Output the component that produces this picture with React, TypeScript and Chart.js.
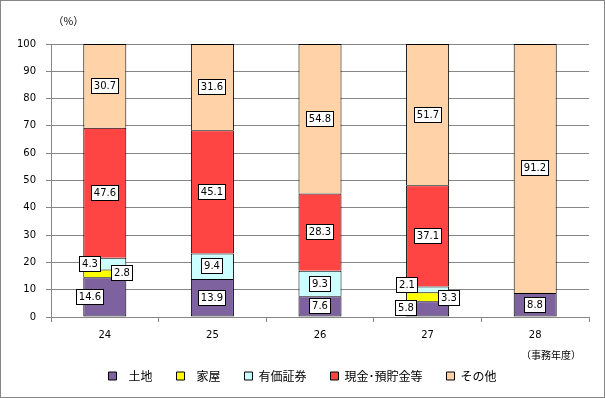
import React, { useEffect, useRef } from "react";
import { Chart, registerables } from "chart.js";

Chart.register(...registerables);

// ---- data ----
const categories = ["24", "25", "26", "27", "28"];
const seriesNames = ["土地", "家屋", "有価証券", "現金･預貯金等", "その他"];
const land = [14.6, 13.9, 7.6, 5.8, 8.8];
const house = [2.8, 0, 0, 3.3, 0];
const securities = [4.3, 9.4, 9.3, 2.1, 0];
const cash = [47.6, 45.1, 28.3, 37.1, 0];
const other = [30.7, 31.6, 54.8, 51.7, 91.2];
const yMin = 0;
const yMax = 100;
const yStep = 10;
const unitLabel = "（%）";
const xAxisTitle = "（事務年度）";

// ---- styles ----
const colors = ["#7E62A0", "#FFFF00", "#CCFFFF", "#FF4444", "#FFD2A8"];
const legendPrefix = ["\u2002", "\u2002", "", "", ""];
// manual label offsets (dataset-index) as in the original, in px
const labelOffsets: Record<string, [number, number]> = {
  "0-0": [-15, 0],
  "1-0": [17, 0],
  "2-0": [-15, 0],
  "0-3": [-22, -1],
  "1-3": [21, 1],
  "2-3": [-21, -4],
};

const GRID = "#868686";
const NUM_FONT = "DejaVu Sans";
const JP_FONT = "'Noto Sans CJK JP'";

const frameAndText = {
  id: "frameAndText",
  beforeDraw(chart: any) {
    const { ctx, width, height } = chart;
    ctx.save();
    ctx.fillStyle = "#ffffff";
    ctx.fillRect(0, 0, width, height);
    ctx.restore();
  },
  afterDraw(chart: any) {
    const { ctx, width, height, chartArea } = chart;
    ctx.save();
    ctx.strokeStyle = GRID;
    ctx.lineWidth = 1;
    ctx.strokeRect(0.5, 0.5, width - 1, height - 1);
    ctx.fillStyle = "#000";
    ctx.font = `10.5px ${JP_FONT}`;
    ctx.textAlign = "left";
    ctx.textBaseline = "middle";
    ctx.fillText(unitLabel, chartArea.left + 2, chartArea.top - 23);
    ctx.font = `10px ${JP_FONT}`;
    ctx.textAlign = "right";
    ctx.fillText(xAxisTitle, chartArea.right - 8, chartArea.bottom + 38);
    ctx.restore();
  },
};

const dataLabels = {
  id: "dataLabels",
  afterDatasetsDraw(chart: any) {
    const { ctx } = chart;
    ctx.save();
    ctx.font = `10px ${NUM_FONT}`;
    ctx.textAlign = "center";
    ctx.textBaseline = "middle";
    chart.data.datasets.forEach((ds: any, di: number) => {
      const meta = chart.getDatasetMeta(di);
      meta.data.forEach((el: any, i: number) => {
        const v = ds.data[i];
        if (v == null || v === 0) return;
        const off = labelOffsets[`${di}-${i}`] || [0, 0];
        const cx = Math.round(el.x + off[0]);
        const cy = Math.round((el.y + el.base) / 2 + off[1]);
        const txt = v.toFixed(1);
        const tw = ctx.measureText(txt).width;
        const w = Math.round(tw + 6);
        const h = 16;
        const x0 = Math.round(cx - w / 2);
        const y0 = Math.round(cy - h / 2);
        ctx.fillStyle = "#fff";
        ctx.fillRect(x0, y0, w, h);
        ctx.strokeStyle = "#000";
        ctx.lineWidth = 1;
        ctx.strokeRect(x0 + 0.5, y0 + 0.5, w - 1, h - 1);
        ctx.fillStyle = "#000";
        ctx.fillText(txt, x0 + w / 2, y0 + h / 2 + 0.5);
      });
    });
    ctx.restore();
  },
};

export default function App() {
  const ref = useRef<HTMLCanvasElement>(null);
  useEffect(() => {
    document.body.style.margin = "0";
    const values = [land, house, securities, cash, other];
    const chart = new Chart(ref.current!, {
      type: "bar",
      data: {
        labels: categories,
        datasets: seriesNames.map((name, k) => ({
          label: name,
          data: values[k].map((v) => (v === 0 ? null : v)),
          backgroundColor: colors[k],
          borderColor: "#000",
          borderWidth: { top: 1, left: 1, right: 1, bottom: k === 0 ? 1 : 0 },
          borderSkipped: false,
          categoryPercentage: 0.4,
          barPercentage: 1,
        })),
      },
      options: {
        animation: false,
        responsive: false,
        devicePixelRatio: 1,
        layout: { padding: { top: 44, left: 0, right: 0, bottom: 6 } },
        scales: {
          x: {
            stacked: true,
            grid: {
              display: true,
              drawOnChartArea: false,
              drawTicks: true,
              tickLength: 5,
              color: GRID,
              offset: true,
            },
            border: { display: true, color: GRID },
            ticks: {
              font: { family: NUM_FONT, size: 10 },
              color: "#000",
              padding: 7,
              maxRotation: 0,
            },
            afterFit: (s: any) => {
              s.height = 29;
            },
          },
          y: {
            stacked: true,
            min: yMin,
            max: yMax,
            ticks: {
              stepSize: yStep,
              font: { family: NUM_FONT, size: 10 },
              color: "#000",
              padding: 10,
            },
            grid: { color: GRID, tickLength: 5 },
            border: { display: true, color: GRID },
            afterFit: (s: any) => {
              s.width = 51;
            },
          },
          yPad: {
            position: "right",
            display: true,
            grid: { display: false },
            ticks: { display: false },
            border: { display: false },
            afterFit: (s: any) => {
              s.width = 16;
            },
          },
        },
        plugins: {
          tooltip: { enabled: false },
          legend: {
            position: "bottom",
            labels: {
              boxWidth: 8,
              boxHeight: 8,
              padding: 24,
              color: "#000",
              font: { family: "Noto Sans CJK JP", size: 12 },
              generateLabels: (c: any) =>
                seriesNames.map((name, k) => ({
                  text: legendPrefix[k] + name,
                  fillStyle: colors[k],
                  strokeStyle: "#000",
                  lineWidth: 1,
                  hidden: false,
                  datasetIndex: k,
                  fontColor: "#000",
                })),
            },
          },
        },
      } as any,
      plugins: [frameAndText, dataLabels],
    });
    return () => chart.destroy();
  }, []);
  return (
    <canvas
      ref={ref}
      width={605}
      height={398}
      style={{ display: "block", width: 605, height: 398 }}
    />
  );
}
